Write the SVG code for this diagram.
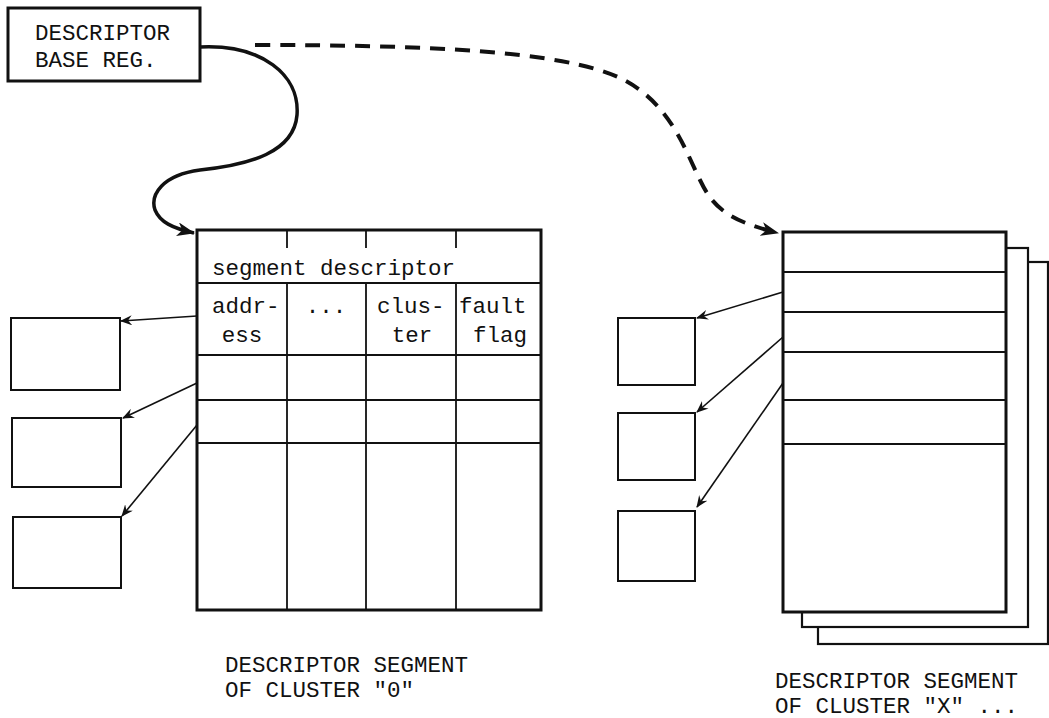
<svg xmlns="http://www.w3.org/2000/svg" width="1049" height="718" viewBox="0 0 1049 718">
<style>
.t{font-family:"Liberation Mono","DejaVu Sans Mono",monospace;font-size:22.5px;fill:#111}
.thick{fill:#fff;stroke:#111;stroke-width:3}
.thin{fill:none;stroke:#111;stroke-width:1.8}
.box{fill:#fff;stroke:#111;stroke-width:2}
.arr{fill:none;stroke:#111;stroke-width:1.6;marker-end:url(#ah)}
</style>
<defs>
<marker id="ah" viewBox="0 0 12 10" refX="11" refY="5" markerWidth="12" markerHeight="10" markerUnits="userSpaceOnUse" orient="auto">
<path d="M0,0 L12,5 L0,10 L4,5 Z" fill="#111"/>
</marker>
<marker id="ahb" viewBox="0 0 18 14" refX="17" refY="7" markerWidth="18" markerHeight="14" markerUnits="userSpaceOnUse" orient="auto">
<path d="M0,0 L18,7 L0,14 L5,7 Z" fill="#111"/>
</marker>
</defs>
<rect width="1049" height="718" fill="#fff"/>

<g id="base-reg">
<rect x="8" y="8" width="192" height="73" class="thick"/>
<text x="35" y="40" class="t">DESCRIPTOR</text>
<text x="35" y="67" class="t">BASE REG.</text>
</g>

<g id="seg0">
<rect x="197" y="230" width="344" height="380" class="thick"/>
<path d="M287,230 V248 M366,230 V248 M456,230 V248" class="thin"/>
<path d="M197,283 H541 M197,355 H541 M197,400 H541 M197,443 H541 M287,283 V610 M366,283 V610 M456,283 V610" class="thin"/>
<text x="212" y="275" class="t">segment descriptor</text>
<text x="212" y="313" class="t">addr-</text>
<text x="242" y="342" class="t" text-anchor="middle">ess</text>
<text x="326" y="313" class="t" text-anchor="middle">...</text>
<text x="377" y="313" class="t">clus-</text>
<text x="412" y="342" class="t" text-anchor="middle">ter</text>
<text x="459" y="313" class="t">fault</text>
<text x="473" y="342" class="t">flag</text>
</g>

<g id="left-boxes">
<rect x="11" y="318" width="109" height="72" class="box"/>
<rect x="12" y="418" width="109" height="69" class="box"/>
<rect x="13" y="517" width="108" height="71" class="box"/>
</g>

<g id="segX">
<rect x="818" y="262" width="230" height="382" class="thick" style="stroke-width:2.2"/>
<rect x="802" y="248" width="226" height="379" class="thick" style="stroke-width:2.2"/>
<rect x="783" y="232" width="223" height="380" class="thick"/>
<path d="M783,272 H1006 M783,312 H1006 M783,352 H1006 M783,400 H1006 M783,444 H1006" class="thin"/>
</g>

<g id="right-boxes">
<rect x="618" y="318" width="77" height="67" class="box"/>
<rect x="618" y="413" width="77" height="67" class="box"/>
<rect x="618" y="511" width="77" height="70" class="box"/>
</g>

<g id="labels">
<text x="225" y="672" class="t">DESCRIPTOR SEGMENT</text>
<text x="225" y="697" class="t">OF CLUSTER "0"</text>
<text x="775" y="688" class="t">DESCRIPTOR SEGMENT</text>
<text x="775" y="713" class="t">OF CLUSTER "X" ...</text>
</g>

<g id="connectors">
<path d="M200,47 C262,44 300,75 297,115 C294,152 250,165 200,170 C162,175 150,195 155,210 C160,222 172,228 194,233" fill="none" stroke="#111" stroke-width="3.5" marker-end="url(#ahb)"/>
<path d="M255,45 C420,45 560,50 620,78 C670,102 685,150 700,180 C712,205 725,220 778,233" fill="none" stroke="#111" stroke-width="4" stroke-dasharray="15,10" marker-end="url(#ahb)"/>
<path d="M197,316 L121,321" class="arr"/>
<path d="M197,383 L123,418" class="arr"/>
<path d="M197,425 L122,516" class="arr"/>
<path d="M783,292 L697,318" class="arr"/>
<path d="M783,337 L697,412" class="arr"/>
<path d="M783,383 L697,507" class="arr"/>
</g>
</svg>
